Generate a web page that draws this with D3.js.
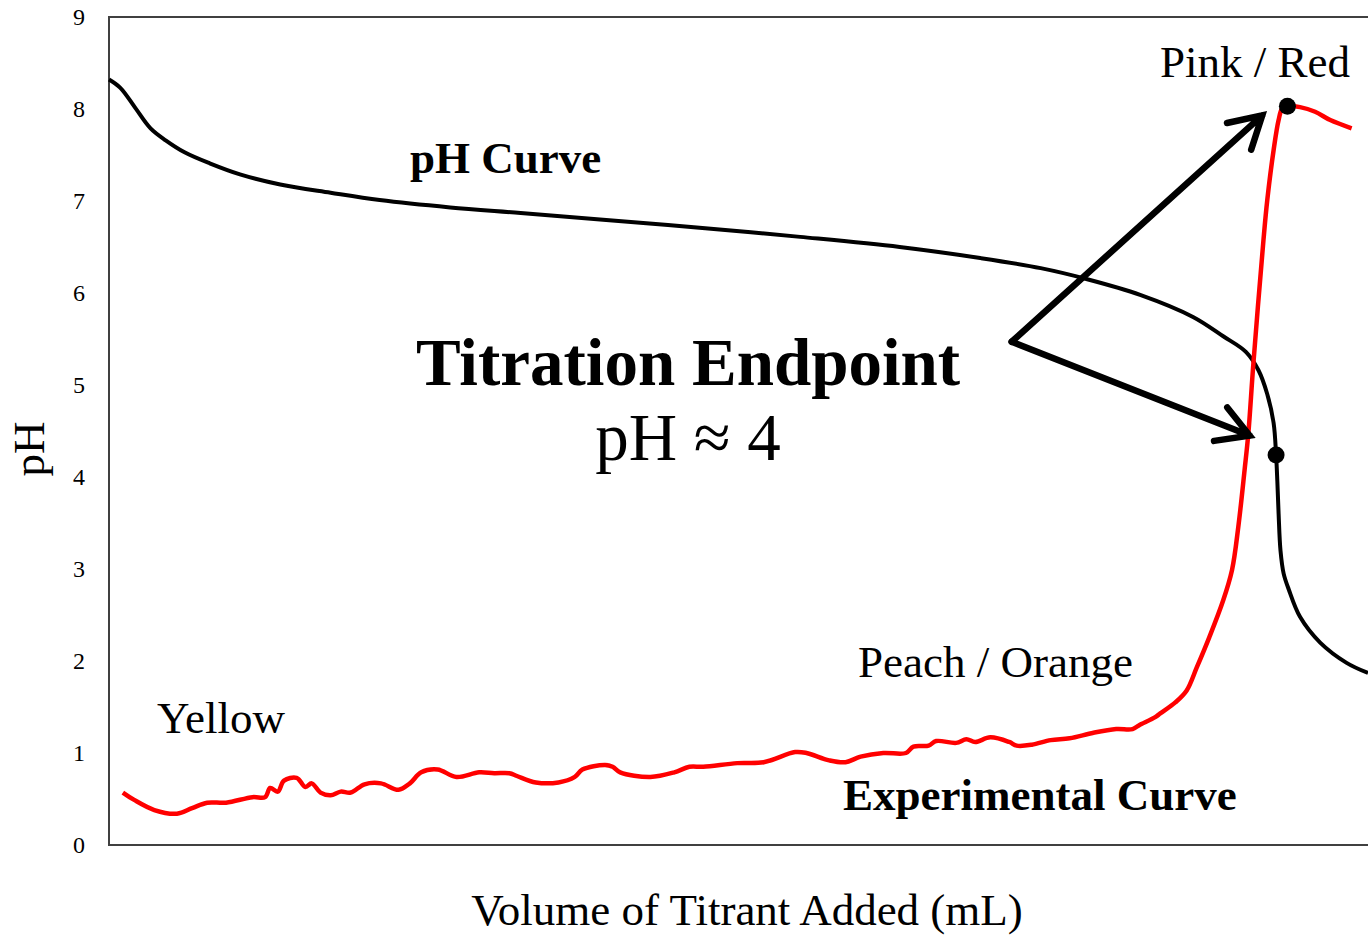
<!DOCTYPE html>
<html>
<head>
<meta charset="utf-8">
<script src="https://cdn.jsdelivr.net/npm/d3@7"></script>
<style>
  body { margin: 0; background: #fff; }
  text { font-family: "Times New Roman", "Liberation Serif", serif; fill: #000; }
</style>
</head>
<body>
<script>
var w = 1368;
var h = 935;

// pH curve (volume, pH)
var phVolume = [0.0, 0.9, 2.1, 3.3, 4.5, 6.0, 8.0, 10.4, 13.6, 17.6, 21.5, 27.1, 32.7, 39.0, 46.9, 54.9, 62.8, 69.2, 74.0, 77.7, 81.9, 86.1, 88.5, 90.3, 91.3, 92.0, 92.5, 92.7, 92.8, 92.9, 93.05, 93.3, 93.7, 94.6, 96.2, 98.3, 100.0];
var phValue  = [8.32, 8.23, 8.01, 7.79, 7.66, 7.53, 7.41, 7.29, 7.18, 7.09, 7.01, 6.93, 6.87, 6.80, 6.71, 6.61, 6.50, 6.38, 6.27, 6.15, 5.98, 5.74, 5.53, 5.36, 5.16, 4.90, 4.59, 4.24, 3.95, 3.60, 3.20, 2.95, 2.78, 2.48, 2.20, 1.98, 1.87];

// experimental curve (volume, pH)
var expVolume = [1.1, 2.0, 3.6, 5.4, 6.6, 7.8, 9.3, 11.4, 12.4, 12.8, 13.4, 13.9, 14.9, 15.6, 16.1, 16.8, 17.6, 18.4, 19.2, 20.3, 21.6, 23.0, 23.9, 24.8, 26.1, 27.6, 29.4, 30.6, 31.8, 32.4, 33.9, 35.7, 37.0, 37.6, 39.4, 40.0, 40.6, 43.0, 44.9, 46.1, 47.2, 49.9, 52.0, 54.5, 55.4, 57.2, 58.5, 59.7, 61.5, 63.3, 63.9, 65.1, 65.7, 67.3, 68.1, 68.8, 70.0, 71.5, 72.1, 73.3, 74.8, 76.3, 78.2, 80.0, 81.3, 81.8, 83.1, 83.5, 84.7, 85.6, 86.4, 87.4, 88.5, 89.2, 89.7, 90.2, 90.5, 90.9, 91.7, 92.0, 92.5, 92.9, 93.2, 93.6, 94.6, 95.8, 97.0, 98.7];
var expValue  = [0.57, 0.49, 0.38, 0.34, 0.40, 0.46, 0.46, 0.52, 0.52, 0.62, 0.58, 0.70, 0.73, 0.63, 0.67, 0.57, 0.54, 0.58, 0.57, 0.66, 0.67, 0.60, 0.67, 0.79, 0.82, 0.74, 0.79, 0.78, 0.78, 0.75, 0.68, 0.68, 0.74, 0.82, 0.87, 0.85, 0.79, 0.74, 0.79, 0.85, 0.85, 0.89, 0.90, 1.01, 1.00, 0.92, 0.90, 0.96, 1.00, 1.00, 1.07, 1.08, 1.13, 1.11, 1.15, 1.12, 1.17, 1.12, 1.08, 1.09, 1.14, 1.16, 1.22, 1.26, 1.26, 1.30, 1.39, 1.43, 1.55, 1.68, 1.93, 2.26, 2.66, 2.99, 3.46, 4.08, 4.48, 5.24, 6.58, 7.01, 7.55, 7.88, 8.01, 8.03, 8.02, 7.97, 7.88, 7.79];

var yTicks = [0, 1, 2, 3, 4, 5, 6, 7, 8, 9];

// endpoint markers and arrows
var dotVolume = [92.7, 93.6];
var dotValue = [4.24, 8.03];
var arrowStart = [71.7, 5.47];
var arrowTips = [[91.6, 7.93], [90.6, 4.45]];

var svg = d3.select("body").append("svg").attr("width", w).attr("height", h);

var x = d3.scaleLinear().domain([0, 100]).range([109, 1368]);
var y = d3.scaleLinear().domain([0, 9]).range([845, 17]);

// frame
svg.append("path")
    .attr("d", "M" + 1368 + "," + y(9) + "H" + x(0) + "V" + y(0) + "H" + 1368)
    .attr("fill", "none")
    .attr("stroke", "#404040")
    .attr("stroke-width", 2);

var yAxis = svg.append("g")
    .attr("transform", "translate(" + x(0) + ",0)")
    .call(d3.axisLeft(y).tickValues(yTicks).tickSize(0).tickPadding(24));
yAxis.select(".domain").remove();
yAxis.selectAll("text")
    .style("font-family", '"Times New Roman", "Liberation Serif", serif')
    .style("font-size", "24px")
    .attr("fill", "#000");

var line = d3.line()
    .x(function(d){ return x(d[0]); })
    .y(function(d){ return y(d[1]); })
    .curve(d3.curveCatmullRom.alpha(0.5));

var phData = phVolume.map(function(v, i){ return [v, phValue[i]]; });
var expData = expVolume.map(function(v, i){ return [v, expValue[i]]; });

svg.append("path")
    .attr("d", line(phData))
    .attr("fill", "none")
    .attr("stroke", "#000")
    .attr("stroke-width", 4);

svg.append("path")
    .attr("d", line(expData))
    .attr("fill", "none")
    .attr("stroke", "#ff0000")
    .attr("stroke-width", 4.5)
    .attr("stroke-linejoin", "round");

svg.selectAll("circle").data(dotVolume).enter().append("circle")
    .attr("cx", function(d){ return x(d); })
    .attr("cy", function(d, i){ return y(dotValue[i]); })
    .attr("r", 8.5)
    .attr("fill", "#000");

// arrows
var sx = x(arrowStart[0]), sy = y(arrowStart[1]);
arrowTips.forEach(function(t){
    var tx = x(t[0]), ty = y(t[1]);
    var ang = Math.atan2(ty - sy, tx - sx);
    var len = 36, spread = Math.PI / 6;
    var a1 = [tx - len * Math.cos(ang - spread), ty - len * Math.sin(ang - spread)];
    var a2 = [tx - len * Math.cos(ang + spread), ty - len * Math.sin(ang + spread)];
    svg.append("path")
        .attr("d", "M" + sx + "," + sy + "L" + tx + "," + ty + "M" + a1 + "L" + tx + "," + ty + "L" + a2)
        .attr("fill", "none")
        .attr("stroke", "#000")
        .attr("stroke-width", 6.5)
        .attr("stroke-linecap", "round")
        .attr("stroke-linejoin", "miter");
});

// labels
function label(txt, px, py, size, weight, anchor) {
    svg.append("text")
        .attr("x", px).attr("y", py)
        .attr("font-size", size)
        .attr("font-weight", weight)
        .attr("text-anchor", anchor)
        .text(txt);
}
label("pH Curve", 410, 173, 45, "bold", "start");
label("Titration Endpoint", 688, 385, 67, "bold", "middle");
label("pH \u2248 4", 688, 460, 67, "normal", "middle");
label("Pink / Red", 1160, 77, 45, "normal", "start");
label("Peach / Orange", 858, 677, 45, "normal", "start");
label("Yellow", 157, 733, 45, "normal", "start");
label("Experimental Curve", 843, 810, 45, "bold", "start");
label("Volume of Titrant Added (mL)", 747, 925, 45, "normal", "middle");

svg.append("text")
    .attr("transform", "translate(44,449) rotate(-90)")
    .attr("font-size", 45)
    .attr("text-anchor", "middle")
    .text("pH");
</script>
</body>
</html>
